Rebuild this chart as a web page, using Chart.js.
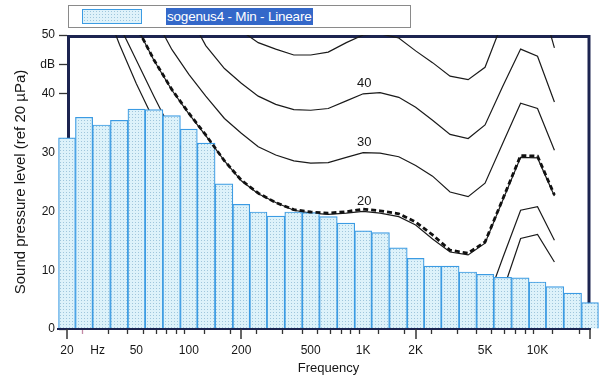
<!DOCTYPE html>
<html lang="it">
<head>
    <meta charset="UTF-8">
    <title>sogenus4 - Min - Lineare</title>
    <script src="https://cdn.jsdelivr.net/npm/chart.js"></script>
    <style>
        body {
            margin: 0;
            background: #ffffff;
            font-family: Arial, "Liberation Sans", sans-serif;
        }

        .wrap {
            position: relative;
            width: 599px;
            height: 381px;
        }

        .legend {
            position: absolute;
            left: 68px;
            top: 5px;
            width: 341px;
            height: 21px;
            border: 1px solid #8a8a8a;
            background: #ffffff;
        }

        .swatch {
            position: absolute;
            left: 13px;
            top: 3px;
            width: 58px;
            height: 13px;
            border: 1px solid #3b9be3;
            background-color: #dff2fa;
            background-image: radial-gradient(#9ec6dc 0.7px, transparent 0.9px);
            background-size: 3px 3px;
        }

        .legend-text {
            position: absolute;
            left: 97px;
            top: 2px;
            height: 17px;
            line-height: 17px;
            padding: 0 1px;
            font-size: 13.5px;
            letter-spacing: -0.2px;
            color: #ffffff;
            background: #3468c9;
            white-space: nowrap;
        }

        canvas {
            position: absolute;
            left: 0;
            top: 0;
        }
    </style>
</head>
<body>
    <div class="wrap">
        <canvas id="splChart" width="599" height="381"></canvas>
        <div class="legend">
            <span class="swatch"></span>
            <span class="legend-text">sogenus4 - Min - Lineare</span>
        </div>
    </div>

    <script>
        // third-octave bands (Hz) and measured levels (dB)
        let bandFreqs = [20, 25, 31.5, 40, 50, 63, 80, 100, 125, 160, 200, 250, 315, 400, 500, 630,
            800, 1000, 1250, 1600, 2000, 2500, 3150, 4000, 5000, 6300, 8000, 10000, 12500, 16000, 20000];
        let bandLevels = [32.5, 36.0, 34.7, 35.5, 37.4, 37.3, 36.3, 34.0, 31.6, 24.7, 21.2, 19.9, 19.2, 19.9, 19.8, 19.1,
            18.0, 16.7, 16.4, 13.8, 12.0, 10.7, 10.7, 9.7, 9.3, 8.8, 8.7, 8.0, 7.2, 6.1, 4.5];

        // equal loudness contours (dB at each frequency)
        let contourFreqs = [20, 25, 31.5, 40, 50, 63, 80, 100, 125, 160, 200, 250, 315, 400, 500, 630,
            800, 1000, 1250, 1600, 2000, 2500, 3150, 4000, 5000, 6300, 8000, 10000, 12500];
        let phon0 = [74.3, 65.0, 56.3, 48.4, 41.7, 35.5, 29.8, 25.1, 20.7, 16.8, 13.8, 11.2, 8.9, 7.2, 6.0, 5.0,
            4.4, 4.2, 3.7, 2.6, 1.0, -1.2, -3.6, -3.9, -1.1, 6.3, 15.4, 16.1, 11.4];
        let phon10 = [80, 70, 60, 51.6, 45.7, 39.6, 33.5, 28.5, 24.5, 21.0, 18.0, 15.5, 13.5, 12.0, 11.0, 10.5,
            10.2, 10.0, 9.6, 8.5, 6.8, 4.5, 2.5, 2.0, 3.8, 12.0, 20.2, 20.8, 15.1];
        let phon20 = [78, 71, 64, 57.5, 51.5, 45.7, 40.6, 36.6, 32.9, 28.6, 25.2, 23.0, 21.5, 20.2, 19.7, 19.5,
            19.7, 20.0, 19.7, 19.1, 17.7, 15.3, 13.1, 12.6, 14.6, 21.8, 29.2, 29.1, 22.6];
        let phon30 = [88, 81, 73, 66, 59.5, 53.2, 47.5, 43.3, 39.6, 35.8, 33.3, 31.0, 29.6, 28.6, 28.2, 28.3,
            29.2, 30.0, 29.9, 29.3, 27.8, 26.0, 23.3, 22.5, 24.8, 31.5, 38.4, 37.5, 30.4];
        let phon40 = [95, 88, 81, 75, 69, 63, 58, 53.5, 48.2, 44.3, 41.8, 39.6, 38.2, 37.3, 37.2, 37.5,
            38.8, 40.0, 40.2, 39.4, 37.7, 35.5, 33.1, 32.4, 34.7, 41.2, 47.6, 46.4, 38.6];
        let phon50 = [102, 96, 89, 83, 77, 72, 67, 62.5, 58.5, 54, 50.7, 48.7, 47.6, 46.6, 46.6, 47.1,
            48.7, 50.0, 50.2, 49.5, 47.3, 45.3, 43.0, 42.4, 44.5, 52.2, 58.5, 58.0, 47.8];
        let minCurve = [78, 71, 64, 57.5, 51.5, 45.8, 40.7, 36.7, 33.0, 28.6, 25.3, 23.1, 21.5, 20.3, 19.9, 19.7,
            19.95, 20.4, 20.1, 19.6, 18.2, 16.0, 13.4, 12.9, 14.8, 22.0, 29.5, 29.4, 22.8];

        // labelled contours (drawn at 1 kHz)
        let contourLabels = ['20', '30', '40'];
        let labelledContours = [phon20, phon30, phon40];
        let labelFreq = 1000;

        // axes
        let xMin = 20, xMax = 20000;
        let xTickValues = [20, 30, 40, 50, 60, 70, 80, 90, 100, 150, 200, 300, 400, 500, 600, 700, 800, 900,
            1000, 1500, 2000, 3000, 4000, 5000, 6000, 7000, 8000, 9000, 10000, 15000, 20000];
        let xLabelValues = [20, 30, 50, 100, 200, 500, 1000, 2000, 5000, 10000];
        let xLabelTexts = ['20', 'Hz', '50', '100', '200', '500', '1K', '2K', '5K', '10K'];
        let xLongTicks = [20, 200, 2000, 20000];
        let yTickValues = [0, 10, 20, 30, 40, 45, 50];
        let yTickTexts = ['0', '10', '20', '30', '40', 'dB', '50'];

        const fontFamily = 'Arial, "Liberation Sans", sans-serif';
        const frameColor = '#1c2450';
        const textColor = '#161616';

        function dotPattern() {
            let c = document.createElement('canvas');
            c.width = 3;
            c.height = 3;
            let g = c.getContext('2d');
            g.fillStyle = '#ddf2fa';
            g.fillRect(0, 0, 3, 3);
            g.fillStyle = '#9fc6dc';
            g.fillRect(0, 0, 1, 1);
            return g.createPattern(c, 'repeat');
        }

        function toPoints(freqs, values) {
            return freqs.map((f, i) => ({ x: f, y: values[i] }));
        }

        function contour(values) {
            return {
                type: 'line',
                data: toPoints(contourFreqs, values),
                borderColor: '#1a1a1a',
                borderWidth: 1.2,
                pointRadius: 0,
                tension: 0,
                fill: false,
                order: 3
            };
        }

        const framePlugin = {
            id: 'frame',
            beforeDatasetsDraw(chart) {
                const { ctx, scales: { x, y } } = chart;
                let l = x.getPixelForValue(xMin), r = x.getPixelForValue(xMax);
                let t = y.getPixelForValue(50), b = y.getPixelForValue(0);
                ctx.save();
                ctx.strokeStyle = frameColor;
                ctx.lineWidth = 3;
                ctx.beginPath();
                ctx.moveTo(l + 1.5, b);
                ctx.lineTo(l + 1.5, t + 1.5);
                ctx.lineTo(r - 1, t + 1.5);
                ctx.lineTo(r - 1, b);
                ctx.stroke();
                ctx.restore();
            },
            afterDatasetsDraw(chart) {
                const { ctx, scales: { x, y } } = chart;
                let b = y.getPixelForValue(0);
                ctx.save();
                // frequency axis line and long ticks
                ctx.strokeStyle = frameColor;
                ctx.lineWidth = 2;
                ctx.beginPath();
                ctx.moveTo(x.getPixelForValue(xMin) - 10, b);
                ctx.lineTo(x.getPixelForValue(xMax) + 1, b);
                ctx.stroke();
                ctx.strokeStyle = '#333';
                ctx.lineWidth = 1.5;
                xLongTicks.forEach(v => {
                    let px = Math.round(x.getPixelForValue(v));
                    ctx.beginPath();
                    ctx.moveTo(px, b);
                    ctx.lineTo(px, b + 10);
                    ctx.stroke();
                });
                // contour labels
                ctx.fillStyle = textColor;
                ctx.font = '13px ' + fontFamily;
                ctx.textAlign = 'center';
                ctx.textBaseline = 'middle';
                let idx = contourFreqs.indexOf(labelFreq);
                contourLabels.forEach((txt, i) => {
                    let px = x.getPixelForValue(labelFreq);
                    let py = y.getPixelForValue(labelledContours[i][idx]);
                    ctx.fillText(txt, px + 1, py - 10);
                });
                ctx.restore();
            }
        };

        const ctx = document.getElementById('splChart').getContext('2d');
        const splChart = new Chart(ctx, {
            type: 'bar',
            data: {
                datasets: [
                    {
                        label: 'sogenus4 - Min - Lineare',
                        data: toPoints(bandFreqs, bandLevels),
                        backgroundColor: dotPattern(),
                        borderColor: '#3b9be3',
                        borderWidth: 1.2,
                        barThickness: 'flex',
                        barPercentage: 1,
                        categoryPercentage: 1,
                        clip: false,
                        order: 2
                    },
                    {
                        type: 'line',
                        label: 'Min',
                        data: toPoints(contourFreqs, minCurve),
                        borderColor: '#111',
                        borderWidth: 2.8,
                        borderDash: [5, 3],
                        pointRadius: 0,
                        tension: 0,
                        fill: false,
                        order: 1
                    },
                    contour(phon0),
                    contour(phon10),
                    contour(phon20),
                    contour(phon30),
                    contour(phon40),
                    contour(phon50)
                ]
            },
            options: {
                responsive: false,
                animation: false,
                devicePixelRatio: 1,
                layout: {
                    padding: { top: 35, right: 7, left: 0, bottom: 0 }
                },
                plugins: {
                    legend: { display: false },
                    tooltip: { enabled: false },
                    title: { display: false }
                },
                scales: {
                    x: {
                        type: 'logarithmic',
                        min: xMin,
                        max: xMax,
                        afterBuildTicks: function(scale) {
                            scale.ticks = xTickValues.map(v => ({ value: v }));
                        },
                        afterFit: function(scale) {
                            scale.height = 52;
                        },
                        border: { display: false },
                        grid: {
                            drawOnChartArea: false,
                            tickLength: 5,
                            tickWidth: 1.3,
                            tickColor: function(c) {
                                return c.tick && c.tick.value === 30 ? '#c48aa6' : '#333';
                            }
                        },
                        ticks: {
                            autoSkip: false,
                            maxRotation: 0,
                            padding: 9,
                            color: textColor,
                            font: { family: fontFamily, size: 12 },
                            callback: function(value) {
                                let i = xLabelValues.indexOf(value);
                                return i >= 0 ? xLabelTexts[i] : '';
                            }
                        },
                        title: {
                            display: true,
                            text: 'Frequency',
                            color: textColor,
                            font: { family: fontFamily, size: 13 },
                            padding: { top: 0, bottom: 5 }
                        }
                    },
                    y: {
                        min: 0,
                        max: 50,
                        afterBuildTicks: function(scale) {
                            scale.ticks = yTickValues.map(v => ({ value: v }));
                        },
                        afterFit: function(scale) {
                            scale.width = 67;
                        },
                        border: { display: false },
                        grid: {
                            drawOnChartArea: false,
                            tickLength: 8,
                            tickWidth: 1.3,
                            tickColor: '#333'
                        },
                        ticks: {
                            padding: 4,
                            color: textColor,
                            font: { family: fontFamily, size: 12 },
                            callback: function(value) {
                                let i = yTickValues.indexOf(value);
                                return i >= 0 ? yTickTexts[i] : '';
                            }
                        },
                        title: {
                            display: true,
                            text: 'Sound pressure level (ref 20 µPa)',
                            color: textColor,
                            font: { family: fontFamily, size: 15 },
                            padding: { top: 12, bottom: 0 }
                        }
                    }
                }
            },
            plugins: [framePlugin]
        });
    </script>
</body>
</html>
